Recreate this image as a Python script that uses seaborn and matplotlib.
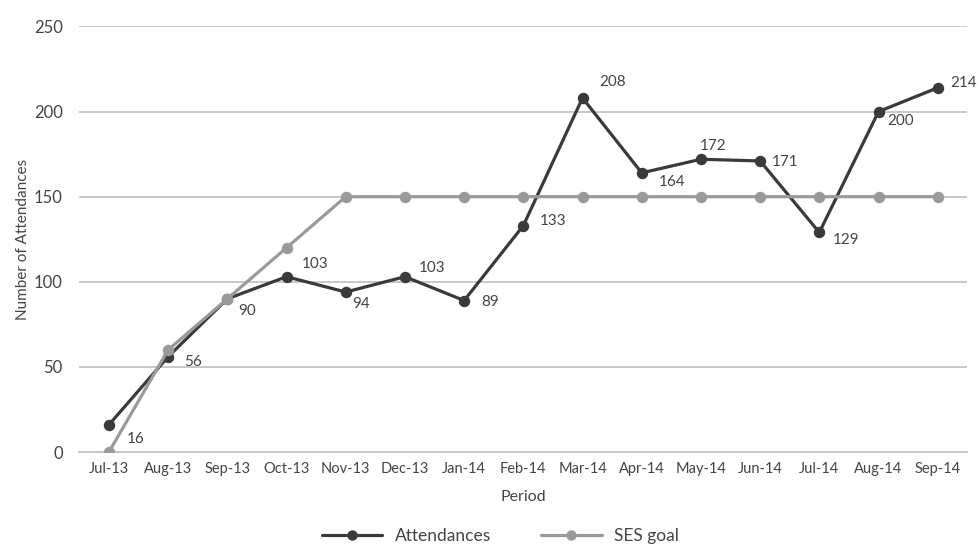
import matplotlib
matplotlib.use("Agg")
import matplotlib.pyplot as plt
import seaborn as sns
import pandas as pd
from matplotlib.lines import Line2D
from matplotlib.ticker import FixedLocator

# ---- data ----
periods = ["Jul-13", "Aug-13", "Sep-13", "Oct-13", "Nov-13", "Dec-13", "Jan-14",
           "Feb-14", "Mar-14", "Apr-14", "May-14", "Jun-14", "Jul-14", "Aug-14", "Sep-14"]
attendances = [16, 56, 90, 103, 94, 103, 89, 133, 208, 164, 172, 171, 129, 200, 214]
ses_goal = [0, 60, 90, 120, 150, 150, 150, 150, 150, 150, 150, 150, 150, 150, 150]
series_names = ["Attendances", "SES goal"]
y_ticks = [0, 50, 100, 150, 200, 250]

# label offsets in pixels (dx to left edge, dy downwards)
label_offsets = [(18, 14), (16, 5), (11, 12), (15, -13), (7, 12), (14, -9), (17, 1),
                 (16, -5), (17, -16), (17, 9), (-1, -13), (12, 1), (13, 8), (9, 9), (13, -5)]

sns.set_theme(style="white")
plt.rcParams["font.family"] = ["Lato", "DejaVu Sans"]

dark = "#3a3a3a"
gray = "#9a9a9a"
grid = "#c4c4c4"
txt = "#444444"

df = pd.DataFrame({
    "Period": periods * 2,
    "value": attendances + ses_goal,
    "series": [series_names[0]] * len(periods) + [series_names[1]] * len(periods),
})

fig = plt.figure(figsize=(9.77, 5.44), dpi=100)
ax = fig.add_axes([0.0812, 0.1691, 0.9089, 0.7822])

for i, (name, col) in enumerate(zip(series_names, [dark, gray])):
    sub = df[df["series"] == name]
    sns.pointplot(data=sub, x="Period", y="value", order=periods, color=col,
                  markers="o", linestyles="-", errorbar=None, ax=ax,
                  markersize=6.5, linewidth=2.3, zorder=3 + i)

for i, v in enumerate(attendances):
    dx, dy = label_offsets[i]
    ax.annotate(str(v), (i, v), xytext=(dx, -dy), textcoords="offset pixels",
                ha="left", va="center", fontsize=11, color=txt, zorder=6)

ax.set_xlim(-0.5, len(periods) - 0.5)
ax.set_ylim(0, 250)
ax.set_yticks(y_ticks)
ax.yaxis.grid(True, color=grid, linewidth=1.3)
ax.set_axisbelow(True)
for s in ["top", "right", "left"]:
    ax.spines[s].set_visible(False)
ax.spines["bottom"].set_color(grid)
ax.spines["bottom"].set_linewidth(1.3)

ax.tick_params(axis="x", which="major", length=0, labelsize=10.5, labelcolor=txt, pad=7)
ax.xaxis.set_minor_locator(FixedLocator([k - 0.5 for k in range(len(periods) + 1)]))
ax.tick_params(axis="x", which="minor", length=5, width=1.3, color=grid)
ax.tick_params(axis="y", length=0, labelsize=12, labelcolor=txt, pad=12)

ax.set_xlabel("Period", fontsize=11.5, color=txt, labelpad=10)
ax.set_ylabel("Number of Attendances", fontsize=11, color=txt, labelpad=3)

handles = [Line2D([0], [0], color=c, lw=2.3, marker="o", markersize=6.5) for c in [dark, gray]]
leg = fig.legend(handles, series_names, loc="center", bbox_to_anchor=(0.512, 0.015),
                 ncol=2, frameon=False, fontsize=12.5, handlelength=3.5,
                 columnspacing=2.9, handletextpad=0.7, labelcolor=txt)

fig.savefig("out.png", dpi=100)
